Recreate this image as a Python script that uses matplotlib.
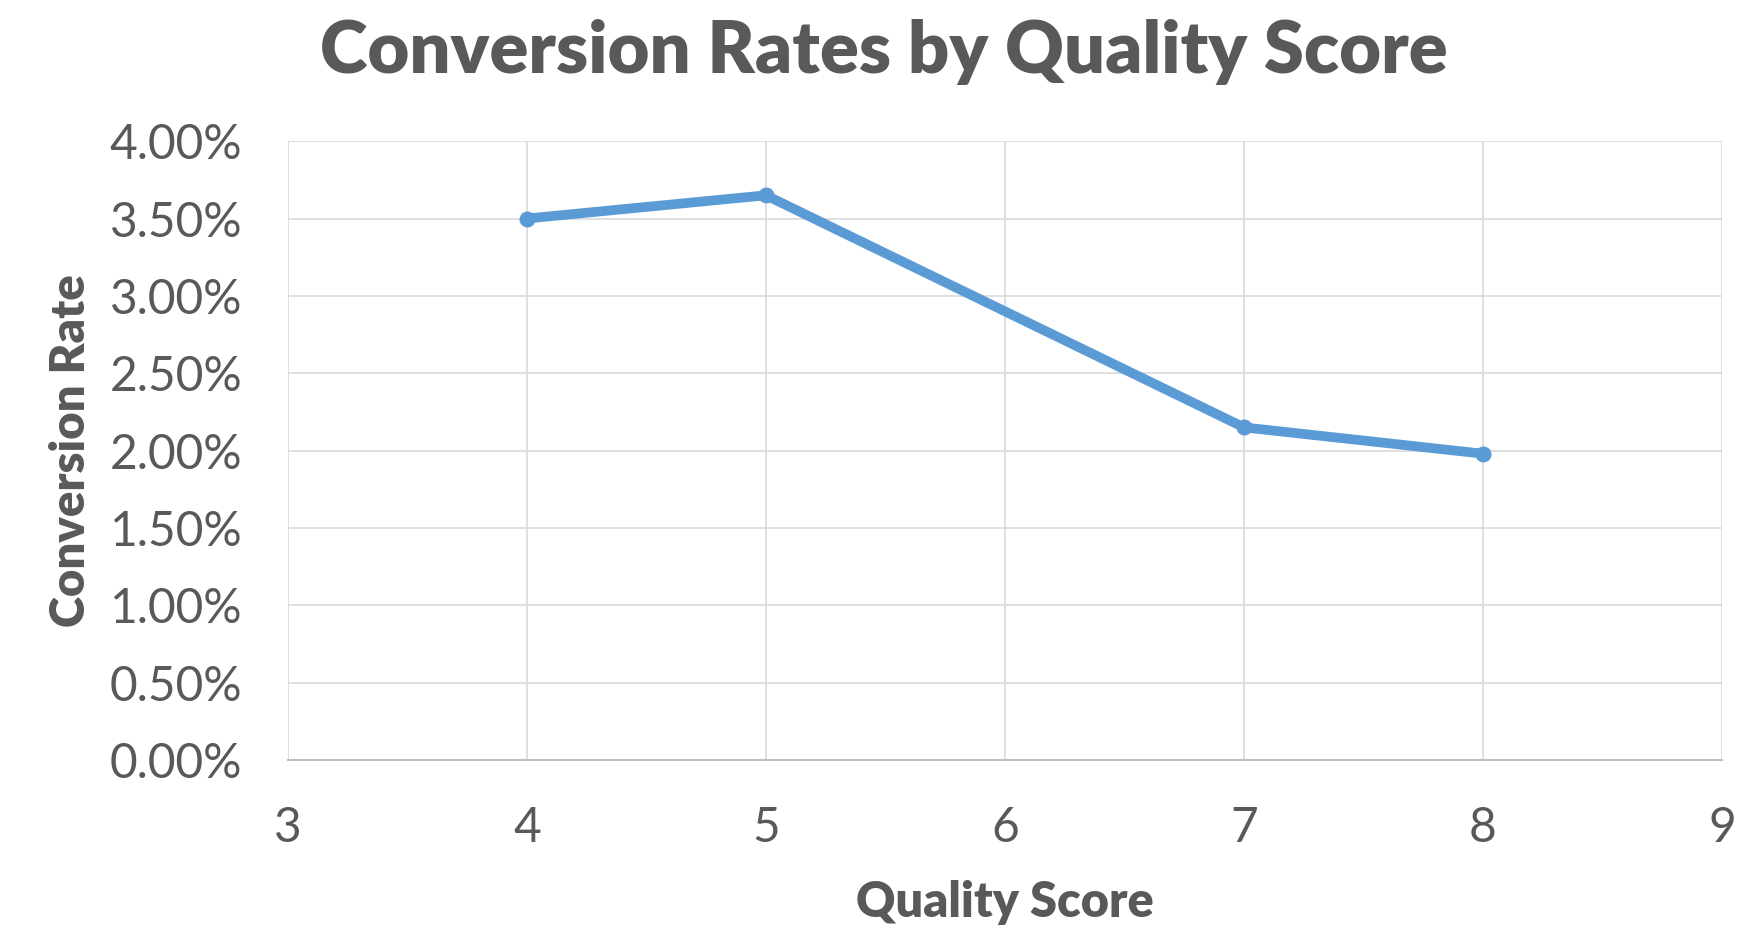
import matplotlib
matplotlib.use("Agg")
import matplotlib.pyplot as plt
from matplotlib.ticker import FuncFormatter, MultipleLocator

quality_score = [4, 5, 7, 8]
conversion_rate = [0.0350, 0.0365, 0.0215, 0.0198]

plt.rcParams['font.family'] = ['Lato', 'DejaVu Sans']
txt = '#595959'

fig = plt.figure(figsize=(17.58, 9.41), dpi=100)
ax = fig.add_axes([0.1638, 0.1923, 0.8157, 0.6577])

ax.plot(quality_score, conversion_rate, color='#5B9BD5', linewidth=7,
        marker='o', markersize=10.5, solid_capstyle='round', zorder=3)

ax.set_xlim(3, 9)
ax.set_ylim(0, 0.04)
ax.xaxis.set_major_locator(MultipleLocator(1))
ax.yaxis.set_major_locator(MultipleLocator(0.005))
ax.yaxis.set_major_formatter(FuncFormatter(lambda v, p: f"{v*100:.2f}%"))

ax.grid(True, color='#D9D9D9', linewidth=1.2, zorder=0)
for s in ['top', 'right', 'left']:
    ax.spines[s].set_visible(False)
ax.spines['bottom'].set_color('#BFBFBF')
ax.spines['bottom'].set_linewidth(1.5)
ax.tick_params(axis='both', length=0, labelsize=34.5, colors=txt)
ax.tick_params(axis='x', pad=33)
ax.tick_params(axis='y', pad=33)

ax.set_xlabel('Quality Score', fontsize=35, fontweight='heavy', color=txt, labelpad=22)
ax.set_ylabel('Conversion Rate', fontsize=34, fontweight='heavy', color=txt, labelpad=12)
fig.text(0.503, 0.945, 'Conversion Rates by Quality Score', ha='center', va='center',
         fontsize=52, fontweight='heavy', color=txt)

fig.savefig('out.png', dpi=100, facecolor='white')
